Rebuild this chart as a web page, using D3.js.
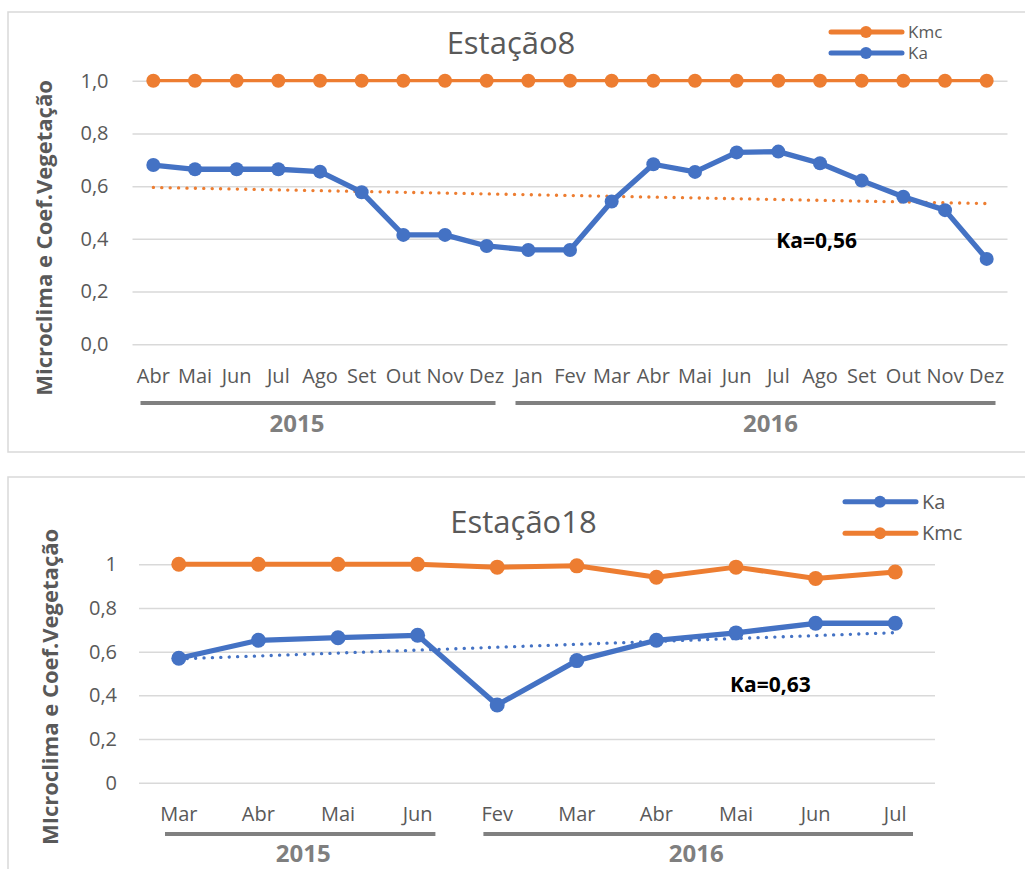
<!DOCTYPE html>
<html>
<head>
<meta charset="utf-8">
<script src="https://cdn.jsdelivr.net/npm/d3@7"></script>
<style>
	body { margin: 0; background: #fff; }
	svg { display: block; font-family: "Open Sans", sans-serif; }
</style>
</head>
<body>
<svg id="chart" width="1025" height="869"></svg>
<script>
// Estação8
var months8 = ['Abr','Mai','Jun','Jul','Ago','Set','Out','Nov','Dez',
	'Jan','Fev','Mar','Abr','Mai','Jun','Jul','Ago','Set','Out','Nov','Dez'];
var years8 = [ ['2015', 0, 8], ['2016', 9, 20] ];
var kmc8 = [1,1,1,1,1,1,1,1,1, 1,1,1,1,1,1,1,1,1,1,1,1];
var ka8 = [0.680,0.664,0.664,0.664,0.655,0.577,0.415,0.415,0.373,
	0.358,0.358,0.542,0.683,0.654,0.728,0.731,0.687,0.621,0.560,0.509,0.324];
var kaTrend8 = [0.595, 0.534];
var yTicks8 = [0, 0.2, 0.4, 0.6, 0.8, 1.0];

// Estação18
var months18 = ['Mar','Abr','Mai','Jun','Fev','Mar','Abr','Mai','Jun','Jul'];
var years18 = [ ['2015', 0, 3], ['2016', 4, 9] ];
var ka18 = [0.570,0.652,0.664,0.675,0.356,0.559,0.652,0.686,0.730,0.730];
var kmc18 = [1.0,1.0,1.0,1.0,0.987,0.993,0.941,0.987,0.935,0.965];
var kaTrend18 = [0.567, 0.687];
var yTicks18 = [0, 0.2, 0.4, 0.6, 0.8, 1];

var ORANGE = '#ED7D31', BLUE = '#4472C4', GRID = '#d9d9d9', TXT = '#595959';

var locale = d3.formatLocale({ decimal: ',', thousands: '.', grouping: [3], currency: ['R$', ''] });

var svg = d3.select('#chart');

function drawChart(o)
{
	var g = svg.append('g');

	// box
	g.append('rect')
		.attr('x', o.box[0]).attr('y', o.box[1])
		.attr('width', o.box[2]).attr('height', o.box[3])
		.attr('fill', 'none').attr('stroke', GRID).attr('stroke-width', 1.5);

	var idx = d3.range(o.months.length);
	var x = d3.scaleBand().domain(idx).range([o.left, o.right]).padding(0);
	var xc = function(i){ return x(i) + x.bandwidth()/2; };
	var y = d3.scaleLinear().domain([0, 1]).range([o.bottom, o.top]);

	// grid
	g.append('g')
		.attr('transform', 'translate(' + o.left + ',0)')
		.call(d3.axisLeft(y).tickValues(o.ticks).tickSize(-(o.right - o.left)).tickFormat(''))
		.call(function(a){
			a.select('.domain').remove();
			a.selectAll('line').attr('stroke', GRID).attr('stroke-width', 1.5);
		});

	// y labels
	g.append('g')
		.attr('transform', 'translate(' + o.left + ',0)')
		.call(d3.axisLeft(y).tickValues(o.ticks).tickSize(0).tickPadding(o.yPad)
			.tickFormat(function(d){ return locale.format(o.yFmt)(d); }))
		.call(function(a){
			a.select('.domain').remove();
			a.selectAll('text').attr('fill', TXT).style('font-size', '20px')
				.style('font-family', '"Open Sans", sans-serif');
		});

	// x labels
	g.append('g')
		.attr('transform', 'translate(0,' + o.bottom + ')')
		.call(d3.axisBottom(x).tickSize(0).tickPadding(o.xPad)
			.tickFormat(function(i){ return o.months[i]; }))
		.call(function(a){
			a.select('.domain').remove();
			a.selectAll('text').attr('fill', TXT).style('font-size', '20px')
				.style('font-family', '"Open Sans", sans-serif');
		});

	// year groups
	o.years.forEach(function(yr, k){
		g.append('line')
			.attr('x1', x(yr[1]) + o.grpInset[0]).attr('x2', x(yr[2]) + x.bandwidth() - o.grpInset[1])
			.attr('y1', o.grpY).attr('y2', o.grpY)
			.attr('stroke', '#808080').attr('stroke-width', 4);
		g.append('text')
			.attr('x', (x(yr[1]) + x(yr[2]) + x.bandwidth())/2 + o.yearDx[k])
			.attr('y', o.yearY)
			.attr('text-anchor', 'middle')
			.attr('fill', '#7f7f7f')
			.style('font-size', '24px').style('font-weight', 'bold')
			.text(yr[0]);
	});

	// axis title
	g.append('text')
		.attr('transform', 'translate(' + o.titleX + ',' + o.titleY + ') rotate(-90)')
		.attr('text-anchor', 'middle')
		.attr('dy', '0.35em')
		.attr('fill', TXT)
		.style('font-size', '22px').style('font-weight', 'bold')
		.text(o.yTitle);

	// chart title
	g.append('text')
		.attr('x', o.headX).attr('y', o.headY)
		.attr('text-anchor', 'middle')
		.attr('fill', TXT)
		.style('font-size', '31px')
		.text(o.title);

	// trend
	var tr = o.trend;
	g.append('line')
		.attr('x1', xc(0)).attr('y1', y(tr.values[0]))
		.attr('x2', xc(o.months.length - 1)).attr('y2', y(tr.values[1]))
		.attr('stroke', tr.color).attr('stroke-width', 3.3)
		.attr('stroke-linecap', 'round')
		.attr('stroke-dasharray', '0.1 8.3');

	var line = d3.line().x(function(d, i){ return xc(i); }).y(function(d){ return y(d); });

	o.series.forEach(function(s){
		g.append('path')
			.attr('d', line(s.values))
			.attr('fill', 'none')
			.attr('stroke', s.color)
			.attr('stroke-width', s.width)
			.attr('stroke-linejoin', 'round');
		g.selectAll(null).data(s.values).enter().append('circle')
			.attr('cx', function(d, i){ return xc(i); })
			.attr('cy', function(d){ return y(d); })
			.attr('r', o.markR)
			.attr('fill', s.color);
	});

	// annotation
	g.append('text')
		.attr('x', xc(o.note.i) + o.note.dx)
		.attr('y', y(o.note.v))
		.attr('fill', '#000')
		.style('font-size', '21px').style('font-weight', 'bold')
		.text(o.note.text);

	// legend
	o.legend.items.forEach(function(s, k){
		var ly = o.legend.y + k*o.legend.step;
		g.append('line')
			.attr('x1', o.legend.x).attr('x2', o.legend.x + 71)
			.attr('y1', ly).attr('y2', ly)
			.attr('stroke', s.color).attr('stroke-width', 5)
			.attr('stroke-linecap', 'round');
		g.append('circle')
			.attr('cx', o.legend.x + 35).attr('cy', ly).attr('r', 6)
			.attr('fill', s.color);
		g.append('text')
			.attr('x', o.legend.x + 77).attr('y', ly)
			.attr('dy', '0.35em')
			.attr('fill', TXT)
			.style('font-size', o.legend.size + 'px')
			.text(s.name);
	});
}

drawChart({
	box: [8, 12, 1030, 440],
	title: 'Estação8', headX: 511, headY: 54,
	yTitle: 'Microclima e Coef.Vegetação', titleX: 44, titleY: 238,
	months: months8, years: years8, ticks: yTicks8, yFmt: '.1f',
	left: 132.5, right: 1007.5, top: 80.7, bottom: 344.3,
	yPad: 24, xPad: 24.5,
	grpY: 403, grpInset: [8, 12], yearY: 432, yearDx: [-23, 13],
	markR: 7,
	series: [ { name: 'Kmc', values: kmc8, color: ORANGE, width: 3.3 },
			  { name: 'Ka', values: ka8, color: BLUE, width: 5.3 } ],
	trend: { values: kaTrend8, color: ORANGE },
	note: { text: 'Ka=0,56', i: 15, dx: -2, v: 0.365 },
	legend: { x: 831, y: 32, step: 21, size: 17,
		items: [ { name: 'Kmc', color: ORANGE }, { name: 'Ka', color: BLUE } ] }
});

drawChart({
	box: [8, 477, 1030, 420],
	title: 'Estação18', headX: 523.5, headY: 533,
	yTitle: 'MIcroclima e Coef.Vegetação', titleX: 50, titleY: 687,
	months: months18, years: years18, ticks: yTicks18, yFmt: '~g',
	left: 139, right: 935, top: 564.3, bottom: 782.7,
	yPad: 22, xPad: 24,
	grpY: 834, grpInset: [26, 22], yearY: 862, yearDx: [5, 0],
	markR: 7.5,
	series: [ { name: 'Kmc', values: kmc18, color: ORANGE, width: 5 },
			  { name: 'Ka', values: ka18, color: BLUE, width: 5.3 } ],
	trend: { values: kaTrend18, color: BLUE },
	note: { text: 'Ka=0,63', i: 7, dx: -6, v: 0.415 },
	legend: { x: 845, y: 501.7, step: 31.6, size: 20,
		items: [ { name: 'Ka', color: BLUE }, { name: 'Kmc', color: ORANGE } ] }
});
</script>
</body>
</html>
